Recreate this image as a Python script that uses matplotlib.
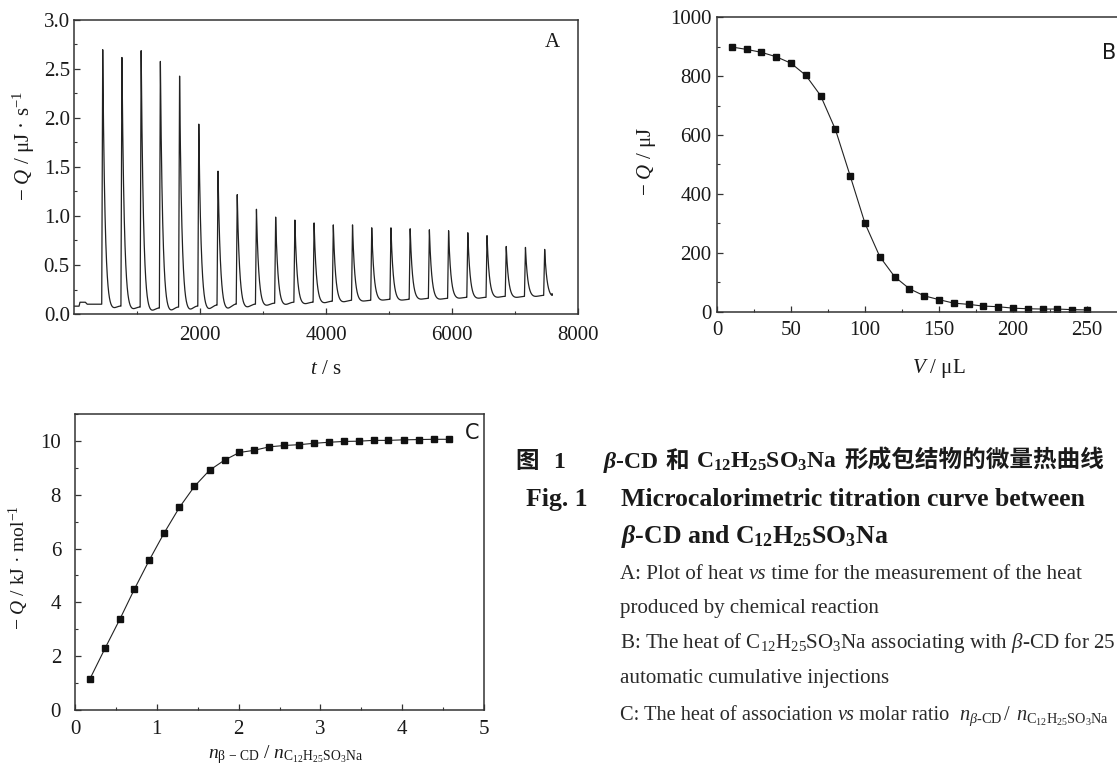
import numpy as np
import matplotlib
matplotlib.use("Agg")
import matplotlib.pyplot as plt
from matplotlib.ticker import MultipleLocator, FormatStrFormatter, FixedLocator
from matplotlib.transforms import IdentityTransform

# ---------------- data ----------------
# Panel A: raw ITC power trace
a_lead_t = [0, 80, 95, 180, 210, 430]
a_lead_v = [0.08, 0.08, 0.12, 0.12, 0.10, 0.10]
a_inj_t = [440, 745, 1050, 1355, 1660, 1965, 2270, 2575, 2880, 3185, 3490, 3795,
           4100, 4405, 4710, 5015, 5320, 5625, 5930, 6235, 6540, 6845, 7150, 7455]
a_peak = [2.70, 2.62, 2.69, 2.58, 2.43, 1.94, 1.46, 1.22, 1.07, 0.99, 0.96, 0.93,
          0.91, 0.91, 0.88, 0.88, 0.87, 0.86, 0.85, 0.83, 0.80, 0.69, 0.68, 0.66]
a_pre = [0.10, 0.08, 0.07, 0.06, 0.07, 0.08, 0.09, 0.10, 0.10, 0.11, 0.12, 0.12,
         0.13, 0.14, 0.14, 0.15, 0.15, 0.16, 0.16, 0.17, 0.17, 0.18, 0.18, 0.19]
a_trough = [0.03, 0.02, 0.00, 0.00, 0.01, 0.02, 0.03, 0.05, 0.07, 0.08, 0.09, 0.10,
            0.11, 0.12, 0.13, 0.13, 0.14, 0.14, 0.15, 0.15, 0.16, 0.16, 0.17, 0.17]
a_end_t, a_end_v = 7590, 0.19

# Panel B: integrated heat per injection
b_vol = [10, 20, 30, 40, 50, 60, 70, 80, 90, 100, 110, 120, 130, 140, 150,
         160, 170, 180, 190, 200, 210, 220, 230, 240, 250]
b_heat = [899, 891, 881, 866, 844, 803, 734, 619, 461, 300, 187, 119, 78, 54, 41,
          29, 25, 19, 17, 12, 10, 9, 9, 7, 6]
b_xticks = [0, 50, 100, 150, 200, 250]

# Panel C: heat of association vs molar ratio
c_ratio = [0.18, 0.367, 0.551, 0.726, 0.91, 1.09, 1.277, 1.46, 1.645, 1.83, 2.01,
           2.19, 2.375, 2.56, 2.74, 2.92, 3.105, 3.29, 3.47, 3.65, 3.83, 4.016,
           4.2, 4.383, 4.567]
c_heat = [1.14, 2.29, 3.39, 4.49, 5.58, 6.58, 7.53, 8.31, 8.91, 9.29, 9.57, 9.65,
          9.78, 9.83, 9.86, 9.91, 9.95, 9.98, 9.99, 10.02, 10.02, 10.04, 10.05,
          10.06, 10.06]

# ---------------- style ----------------
W_PX, H_PX, DPI = 1117, 765, 100
SERIF = "Liberation Serif"
CJK = "Noto Sans CJK SC"
TXT = "#1a1a1a"
SPINE = "#333333"
plt.rcParams.update({
    "font.family": SERIF,
    "mathtext.fontset": "custom",
    "mathtext.rm": SERIF,
    "mathtext.it": SERIF + ":italic",
    "mathtext.bf": SERIF + ":bold",
    "mathtext.bfit": SERIF + ":italic:bold",
    "text.color": TXT,
    "axes.labelcolor": TXT,
    "xtick.color": SPINE,
    "ytick.color": SPINE,
    "xtick.labelcolor": TXT,
    "ytick.labelcolor": TXT,
})

fig = plt.figure(figsize=(W_PX / DPI, H_PX / DPI), dpi=DPI)


def add_axes_px(left, top, right, bottom):
    return fig.add_axes([left / W_PX, 1 - bottom / H_PX,
                         (right - left) / W_PX, (bottom - top) / H_PX])


def style_axes(ax, fs=15, pad=3):
    for s in ax.spines.values():
        s.set_linewidth(1.1)
        s.set_color(SPINE)
    ax.tick_params(which="both", direction="in", top=False, right=False,
                   labelsize=fs, pad=pad)
    ax.tick_params(which="major", length=4.3, width=0.9)
    ax.tick_params(which="minor", length=2.4, width=0.8)


# ---------------- Panel A ----------------
axA = add_axes_px(74, 20, 578, 314)
tA = list(a_lead_t)
vA = list(a_lead_v)
tau, rise = 36.0, 16.0
for i, t0 in enumerate(a_inj_t):
    t1 = a_inj_t[i + 1] if i + 1 < len(a_inj_t) else a_end_t
    lvl1 = a_pre[i + 1] if i + 1 < len(a_pre) else a_end_v
    T = t1 - t0
    dt = np.unique(np.concatenate([np.linspace(0, 80, 81), np.linspace(80, T, 80)]))
    dip = 120.0
    base = np.where(
        dt < dip,
        a_pre[i] + (a_trough[i] - a_pre[i]) * 0.5 * (1 - np.cos(np.pi * dt / dip)),
        a_trough[i] + (lvl1 - a_trough[i]) * 0.5 * (1 - np.cos(np.pi * (dt - dip) / (T - dip))),
    )
    pulse = np.where(dt < rise, dt / rise, np.exp(-(dt - rise) / tau))
    v = base + (a_peak[i] - a_pre[i]) * pulse
    tA.extend(list(t0 + dt[:-1]))
    vA.extend(list(v[:-1]))
tA.append(a_end_t)
vA.append(a_end_v)
axA.plot(tA, vA, color="#222222", lw=0.9)
axA.set_xlim(0, 8000)
axA.set_ylim(0, 3.0)
axA.xaxis.set_major_locator(FixedLocator([2000, 4000, 6000, 8000]))
axA.xaxis.set_minor_locator(FixedLocator([1000, 3000, 5000, 7000]))
axA.yaxis.set_major_locator(MultipleLocator(0.5))
axA.yaxis.set_minor_locator(MultipleLocator(0.25))
axA.yaxis.set_major_formatter(FormatStrFormatter("%.1f"))
style_axes(axA, fs=15, pad=3)
axA.tick_params(axis="x", pad=9)
axA.set_xlabel("$t$ / s", fontsize=15)
axA.xaxis.set_label_coords(0.5, -0.155)
axA.set_ylabel("− $Q$ / μJ · s$^{-1}$", fontsize=15)
axA.yaxis.set_label_coords(-0.073, 0.57)
axA.text(7587, 2.77, "A", fontsize=15, ha="center", va="center")

# ---------------- Panel B ----------------
axB = add_axes_px(717, 17.3, 1161, 311.7)
axB.plot(b_vol, b_heat, color="#222222", lw=0.8, marker="s", ms=5,
         mfc="#111111", mec="#111111")
axB.set_xlim(0, 300)
axB.set_ylim(0, 1000)
axB.xaxis.set_major_locator(FixedLocator(b_xticks))
axB.xaxis.set_minor_locator(FixedLocator([25, 75, 125, 175, 225, 275]))
axB.yaxis.set_major_locator(MultipleLocator(200))
axB.yaxis.set_minor_locator(MultipleLocator(100))
style_axes(axB, fs=15, pad=4)
axB.tick_params(axis="x", pad=7)
axB.set_xlabel("$V$ / μL", fontsize=15)
axB.xaxis.set_label_coords(0.5, -0.155)
axB.set_ylabel("− $Q$ / μJ", fontsize=15)
axB.yaxis.set_label_coords(-0.133, 0.51)
axB.text(265, 879, "B", fontsize=15, ha="center", va="center",
         family="DejaVu Sans")

# ---------------- Panel C ----------------
axC = add_axes_px(75, 414, 484, 710)
axC.plot(c_ratio, c_heat, color="#222222", lw=0.8, marker="s", ms=5,
         mfc="#111111", mec="#111111")
axC.set_xlim(0, 5)
axC.set_ylim(0, 11)
axC.xaxis.set_major_locator(MultipleLocator(1))
axC.xaxis.set_minor_locator(MultipleLocator(0.5))
axC.yaxis.set_major_locator(MultipleLocator(2))
axC.yaxis.set_minor_locator(MultipleLocator(1))
style_axes(axC, fs=15, pad=10)
axC.tick_params(axis="x", pad=7)
axC.set_ylabel("− $Q$ / kJ · mol$^{-1}$", fontsize=14)
axC.yaxis.set_label_coords(-0.108, 0.48)
axC.set_xlabel(r"$n_{\mathrm{\beta\,-\,CD}}\ /\ n_{\mathrm{C_{12}H_{25}SO_3Na}}$",
               fontsize=14, va="center")
axC.xaxis.set_label_coords(0.515, -0.152)
axC.text(4.85, 10.31, "C", fontsize=15, ha="center", va="center",
         family="DejaVu Sans")

# ---------------- caption ----------------
rend = fig.canvas.get_renderer()


def draw_runs(x0, y_base, runs, size, width=None, color=TXT):
    def build(sz):
        arts, x = [], x0
        for text, props, gap in runs:
            t = fig.text(x, H_PX - y_base, text, transform=IdentityTransform(),
                         fontsize=sz, ha="left", va="baseline", color=color, **props)
            w = t.get_window_extent(rend).width
            x += w + gap * sz * DPI / 72.0
            arts.append(t)
        return arts, x - x0
    arts, w = build(size)
    if width is not None:
        for a in arts:
            a.remove()
        new = size * width / w
        arts, w = build(new)
        return new
    return size


SB = dict(family=SERIF, weight="bold")
SR = dict(family=SERIF)
SI = dict(family=SERIF, style="italic")
CB = dict(family=CJK, weight="bold")

# line 1 (Chinese title)
line1 = [
    (r"$\mathbfit{\beta}$-CD", SB, 0.3),
    ("和", CB, 0.3),
    (r"C$_{\mathbf{12}}$H$_{\mathbf{25}}$SO$_{\mathbf{3}}$Na", SB, 0.3),
    ("形成包结物的微量热曲线", CB, 0.0),
]
s1 = draw_runs(603, 468, line1, 16, width=1105 - 603)
draw_runs(515, 468, [("图", CB, 0.0)], s1)
draw_runs(553, 468, [("1", SB, 0.0)], s1)

# English title
s2 = draw_runs(621, 506, [("Microcalorimetric titration curve between", SB, 0)], 16,
               width=1087 - 621)
draw_runs(526, 506, [("Fig. 1", SB, 0)], s2)
draw_runs(621, 543, [(r"$\mathbfit{\beta}$-CD and C$_{\mathbf{12}}$H$_{\mathbf{25}}$SO$_{\mathbf{3}}$Na", SB, 0)], s2)

# description
DC = "#2a2a2a"
s3 = draw_runs(620, 579, [("A: Plot of heat ", SR, 0.0), ("vs", SI, 0.0),
                          (" time for the measurement of the heat", SR, 0.0)],
               13, width=1080 - 620, color=DC)
draw_runs(620, 613, [("produced by chemical reaction", SR, 0)], s3, color=DC)
draw_runs(620, 648, [(r"B: The heat of C$_{12}$H$_{25}$SO$_{3}$Na associating with $\beta$-CD for 25", SR, 0)],
          s3, color=DC)
draw_runs(620, 683, [("automatic cumulative injections", SR, 0)], s3, color=DC)
draw_runs(620, 720, [("C: The heat of association ", SR, 0.0), ("vs", SI, 0.0),
                     (" molar ratio", SR, 0.45),
                     (r"$n_{\beta\text{-CD}}\,/\;\,n_{\mathrm{C_{12}H_{25}SO_3Na}}$", SR, 0)],
          s3 * 0.97, color=DC)

fig.savefig("out.png", dpi=DPI)
